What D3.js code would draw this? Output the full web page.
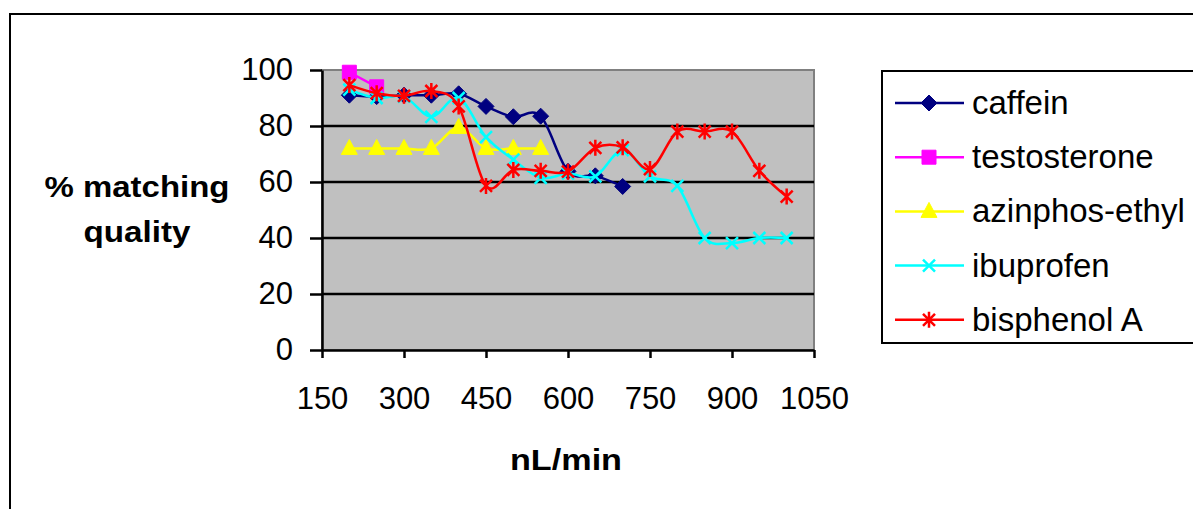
<!DOCTYPE html>
<html>
<head>
<meta charset="utf-8">
<script src="https://cdn.jsdelivr.net/npm/d3@7"></script>
<style>
  body { margin: 0; background: #fff; }
  text { font-family: "Liberation Sans", Arial, sans-serif; }
</style>
</head>
<body>
<script>
// flow rates (nL/min)
var flowRates = [200,250,300,350,400,450,500,550,600,650,700,750,800,850,900,950,1000];

// % matching quality, one value per flow rate starting at 200
var caffein = [91, 90.5, 91, 91, 91.5, 87, 83.3, 83.5, 63.8, 62.2, 58.4];
var testosterone = [99.2, 94];
var azinphos = [72, 72, 72, 72, 79.5, 72, 72, 72];
var ibuprofen = [93, 90, 90.5, 83.3, 90, 76, 68, 61.5, 63, 62, 71.4, 62, 58.6, 40, 38.2, 40, 40];
var bisphenol = [94.6, 91.7, 90.8, 92.5, 87, 58.6, 64.3, 64, 63.7, 72.2, 72.4, 64.6, 78, 78, 78, 64, 54.8];

var seriesNames = ["caffein","testosterone","azinphos-ethyl","ibuprofen","bisphenol A"];
var xTicks = [150,300,450,600,750,900,1050];
var yTicks = [0,20,40,60,80,100];

var series = [
  {name: seriesNames[0], values: caffein, color: "#000080", marker: "diamond"},
  {name: seriesNames[1], values: testosterone, color: "#ff00ff", marker: "square"},
  {name: seriesNames[2], values: azinphos, color: "#ffff00", marker: "triangle"},
  {name: seriesNames[3], values: ibuprofen, color: "#00ffff", marker: "x"},
  {name: seriesNames[4], values: bisphenol, color: "#ff0000", marker: "star"}
];

var svg = d3.select("body").append("svg")
  .attr("width", 1193)
  .attr("height", 509);

// outer chart frame (runs off the right and bottom edge)
svg.append("rect")
  .attr("x", 10).attr("y", 14)
  .attr("width", 1200).attr("height", 520)
  .style("fill", "#fff").style("stroke", "#000").style("stroke-width", 2);

var xScale = d3.scaleLinear().domain([150,1050]).range([322,814]);
var yScale = d3.scaleLinear().domain([0,100]).range([350,70]);

// plot area
svg.append("rect")
  .attr("x", xScale(150)).attr("y", yScale(100))
  .attr("width", xScale(1050) - xScale(150))
  .attr("height", yScale(0) - yScale(100))
  .style("fill", "#c0c0c0").style("stroke", "#808080").style("stroke-width", 2);

svg.append("g").selectAll("line")
  .data([20,40,60,80])
  .enter()
  .append("line")
  .attr("x1", xScale(150)).attr("x2", xScale(1050))
  .attr("y1", d => yScale(d)).attr("y2", d => yScale(d))
  .style("stroke", "#000").style("stroke-width", 2.5);

var xAxis = d3.axisBottom(xScale).tickValues(xTicks).tickFormat(d3.format("d"))
  .tickSize(8).tickPadding(29).tickSizeOuter(0);
var yAxis = d3.axisLeft(yScale).tickValues(yTicks).tickFormat(d3.format("d"))
  .tickSize(12).tickPadding(17).tickSizeOuter(0);

svg.append("g").attr("id","xAxisG")
  .attr("transform","translate(0," + yScale(0) + ")")
  .call(xAxis);
svg.append("g").attr("id","yAxisG")
  .attr("transform","translate(" + xScale(150) + ",0)")
  .call(yAxis);

svg.selectAll("#xAxisG path, #yAxisG path, #xAxisG line, #yAxisG line")
  .style("stroke", "#000").style("stroke-width", 2.5);
svg.selectAll("#xAxisG text, #yAxisG text")
  .style("font-size", "31px").style("fill", "#000")
  .style("font-family", "'Liberation Sans', Arial, sans-serif");

// axis titles (stretched a little to match the wide original lettering)
svg.append("text")
  .attr("x", 137).attr("y", 197)
  .attr("text-anchor","middle")
  .attr("textLength", 185).attr("lengthAdjust","spacingAndGlyphs")
  .style("font-size","29px").style("font-weight","bold")
  .text("% matching");
svg.append("text")
  .attr("x", 137).attr("y", 242)
  .attr("text-anchor","middle")
  .attr("textLength", 107).attr("lengthAdjust","spacingAndGlyphs")
  .style("font-size","29px").style("font-weight","bold")
  .text("quality");

svg.append("text")
  .attr("x", 566).attr("y", 470)
  .attr("text-anchor","middle")
  .attr("textLength", 112).attr("lengthAdjust","spacingAndGlyphs")
  .style("font-size","29px").style("font-weight","bold")
  .text("nL/min");

function markerPath(type) {
  if (type == "diamond") return "M0,-8L8,0L0,8L-8,0Z";
  if (type == "square") return "M-7,-7H7V7H-7Z";
  if (type == "triangle") return "M0,-9L8,6H-8Z";
  if (type == "x") return "M-6,-6L6,6M-6,6L6,-6";
  return "M-6,-6L6,6M-6,6L6,-6M0,-8V8";
}

function drawMarker(g, type, color) {
  var filled = (type == "diamond" || type == "square" || type == "triangle");
  g.append("path")
    .attr("d", markerPath(type))
    .style("fill", filled ? color : "none")
    .style("stroke", color)
    .style("stroke-width", filled ? 1 : 2.5);
}

var line = d3.line()
  .x((d,i) => xScale(flowRates[i]))
  .y((d,i) => yScale(d))
  .curve(d3.curveCardinal.tension(0));

series.forEach(function(s) {
  svg.append("path")
    .attr("d", line(s.values))
    .style("fill","none")
    .style("stroke", s.color)
    .style("stroke-width", 2.5);
  s.values.forEach(function(v,i) {
    var g = svg.append("g")
      .attr("transform","translate(" + xScale(flowRates[i]) + "," + yScale(v) + ")");
    drawMarker(g, s.marker, s.color);
  });
});

// legend
svg.append("rect")
  .attr("x", 882).attr("y", 71)
  .attr("width", 330).attr("height", 272)
  .style("fill","#fff").style("stroke","#000").style("stroke-width",2);

series.forEach(function(s,i) {
  var ly = 103 + i * 54.2;
  svg.append("line")
    .attr("x1", 895).attr("x2", 964)
    .attr("y1", ly).attr("y2", ly)
    .style("stroke", s.color).style("stroke-width", 2.5);
  var g = svg.append("g").attr("transform","translate(929," + ly + ")");
  drawMarker(g, s.marker, s.color);
  svg.append("text")
    .attr("x", 972).attr("y", ly + 11)
    .style("font-size","33px")
    .text(s.name);
});
</script>
</body>
</html>
